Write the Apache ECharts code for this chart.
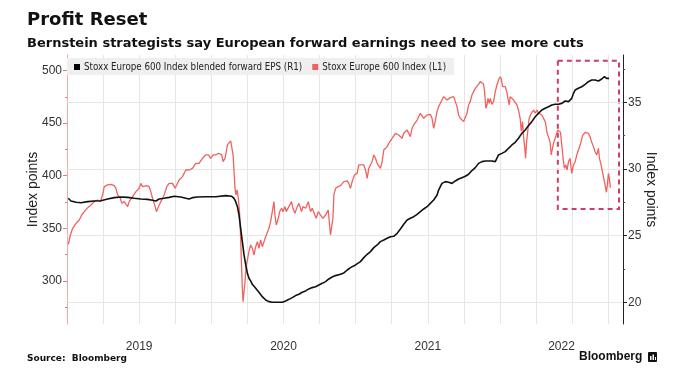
<!DOCTYPE html>
<html>
<head>
<meta charset="utf-8">
<script src="https://cdn.jsdelivr.net/npm/echarts/dist/echarts.min.js"></script>
<style>
html,body{margin:0;padding:0;background:#fff;}
#chart{width:677px;height:389px;}
</style>
</head>
<body>
<div id="chart"></div>
<script>
// x values: months since 1 Jan 2019
const yearLabels = ['2019', '2020', '2021', '2022'];
const yearLabelPos = [6, 18, 30, 41.12];
const leftTicks = [300, 350, 400, 450, 500];
const rightTicks = [20, 25, 30, 35];

const stoxx600 = [
[0.11,334.7],[0.28,343.6],[0.47,350.0],[0.75,354.7],[1.02,357.9],[1.22,362.6],[1.44,365.8],[1.72,369.6],[1.99,372.1],[2.27,375.3],[2.55,376.9],[2.77,375.3],[2.96,381.7],[3.10,389.6],[3.38,391.2],[3.65,391.8],[3.93,390.5],[4.07,388.0],[4.21,381.7],[4.43,378.5],[4.56,373.7],[4.76,375.3],[5.04,370.6],[5.17,375.3],[5.45,380.1],[5.73,384.8],[6.00,388.0],[6.14,392.7],[6.28,389.6],[6.42,388.0],[6.64,390.5],[6.83,389.6],[6.97,384.8],[7.11,378.5],[7.25,373.7],[7.44,365.8],[7.61,370.6],[7.80,375.3],[7.94,373.7],[8.08,381.7],[8.30,389.6],[8.49,392.7],[8.77,392.7],[8.99,388.0],[9.13,389.6],[9.32,395.9],[9.60,399.1],[9.88,405.4],[10.15,405.4],[10.43,407.0],[10.71,411.7],[10.98,411.7],[11.26,416.5],[11.40,418.1],[11.54,419.7],
[11.76,419.7],[11.95,416.5],[12.15,419.7],[12.37,419.7],[12.59,421.3],[12.70,422.8],[12.87,419.7],[12.98,413.3],[13.14,416.5],[13.34,429.2],[13.47,430.8],[13.61,433.0],[13.70,431.7],[13.81,419.7],[13.89,403.8],[13.97,388.0],[14.05,381.7],[14.14,386.4],[14.25,378.5],[14.36,362.6],[14.44,340.4],[14.52,311.9],[14.58,292.9],[14.64,280.2],[14.72,281.8],[14.80,299.3],[14.91,315.1],[15.00,319.9],[15.13,327.8],[15.27,334.1],[15.41,331.0],[15.55,324.6],[15.69,332.5],[15.83,337.3],[15.96,331.0],[16.10,338.9],[16.24,332.5],[16.38,337.3],[16.52,342.0],[16.66,340.4],[16.79,350.0],[16.93,356.3],[17.07,365.8],[17.21,375.3],[17.29,362.6],[17.40,353.1],[17.57,359.5],[17.68,365.8],[17.85,369.0],[17.96,365.8],[18.12,370.6],[18.23,365.8],[18.45,370.6],[18.67,375.3],[18.79,369.0],[18.95,364.2],[19.15,370.6],[19.28,373.7],[19.50,365.8],[19.62,370.6],[19.84,369.0],[20.06,375.3],[20.25,365.8],[20.39,369.0],[20.53,370.6],[20.72,359.5],[20.89,365.8],[21.08,362.6],[21.28,359.5],[21.50,362.6],[21.72,367.4],[21.91,343.6],[22.00,342.0],[22.11,359.5],[22.19,381.7],[22.33,388.0],[22.55,389.6],[22.74,390.5],
[23.02,394.3],[23.30,395.0],[23.43,392.7],[23.57,388.0],[23.71,394.3],[23.90,400.6],[24.12,402.2],[24.26,410.2],[24.40,411.7],[24.68,410.2],[24.82,405.4],[24.96,397.5],[25.09,407.0],[25.23,408.6],[25.37,413.3],[25.51,419.7],[25.65,416.5],[25.79,411.7],[25.92,410.2],[26.06,407.0],[26.20,413.3],[26.34,424.4],[26.48,424.4],[26.62,427.6],[26.75,430.8],[26.89,432.4],[27.03,435.5],[27.17,437.1],[27.31,440.3],[27.45,441.8],[27.58,438.7],[27.72,437.1],[27.86,435.5],[28.00,440.3],[28.14,438.7],[28.28,443.4],[28.41,440.3],[28.55,437.1],[28.69,445.0],[28.83,448.2],[28.97,449.8],[29.11,452.9],[29.24,454.5],[29.38,459.3],[29.52,457.7],[29.66,454.5],[29.80,456.1],[29.94,457.7],[30.07,456.1],[30.21,458.3],[30.35,454.5],[30.49,445.0],[30.63,452.9],[30.77,460.9],[30.90,465.6],[31.04,467.2],[31.18,471.9],[31.32,475.1],[31.46,473.5],[31.60,471.9],[31.73,473.5],[31.87,474.2],[32.01,473.5],[32.15,475.1],[32.29,470.4],[32.43,465.6],[32.56,457.7],[32.70,454.5],[32.84,456.1],[32.98,451.4],[33.12,452.9],[33.26,459.3],[33.39,467.2],[33.53,470.4],[33.67,476.7],[33.81,479.9],[33.95,483.0],
[34.09,483.0],[34.22,486.8],[34.36,489.4],[34.50,490.9],[34.64,486.8],[34.72,479.9],[34.83,464.0],[34.92,467.2],[35.00,473.5],[35.11,468.8],[35.19,473.5],[35.33,467.8],[35.47,470.4],[35.61,479.9],[35.75,486.2],[35.88,490.9],[36.02,494.1],[36.11,491.9],[36.22,484.6],[36.30,483.0],[36.44,484.6],[36.58,479.2],[36.66,473.5],[36.77,467.2],[36.85,475.1],[36.99,476.7],[37.13,471.9],[37.27,473.5],[37.41,467.2],[37.54,462.4],[37.68,454.5],[37.77,442.5],[37.88,451.4],[37.96,437.1],[38.04,429.2],[38.13,416.5],[38.21,431.7],[38.32,443.4],[38.43,454.5],[38.60,459.3],[38.79,462.4],[38.93,459.3],[39.07,462.4],[39.20,459.3],[39.34,460.9],[39.48,457.7],[39.62,459.3],[39.76,451.4],[39.84,446.6],[39.92,440.3],[40.03,437.1],[40.17,431.7],[40.26,419.7],[40.37,426.0],[40.45,430.8],[40.59,435.5],[40.73,437.1],[40.81,443.4],[40.92,441.8],[41.03,441.2],[41.14,429.2],[41.25,416.5],[41.36,407.0],[41.47,410.2],[41.58,405.4],[41.70,413.3],[41.83,416.5],[41.97,402.2],[42.11,410.2],[42.25,413.3],[42.39,419.7],[42.47,422.8],[42.58,426.0],[42.75,432.4],[42.86,438.0],[43.08,441.2],[43.24,442.5],[43.35,440.3],[43.49,437.1],[43.63,431.7],[43.77,427.6],[43.91,422.8],[44.05,419.7],[44.19,426.0],[44.27,416.5],[44.38,411.7],[44.52,403.8],[44.63,397.5],[44.74,391.2],[44.85,384.2],[44.93,391.2],[45.02,402.2],[45.10,396.9],[45.18,388.6]
];

const forwardEps = [
[0.11,27.80],[0.33,27.60],[0.75,27.50],[1.16,27.47],[1.72,27.55],[2.27,27.60],[2.82,27.62],[3.38,27.75],[3.93,27.85],[4.48,27.90],[5.04,27.87],[5.59,27.80],[6.14,27.75],[6.70,27.72],[7.11,27.65],[7.39,27.60],[7.66,27.75],[8.08,27.80],[8.49,27.87],[8.91,27.95],[9.46,27.90],[9.88,27.80],[10.15,27.75],[10.43,27.85],[10.85,27.90],[11.54,27.92],[12.37,27.92],[13.20,28.00],[13.70,27.95],[13.89,27.80],[14.03,27.55],[14.17,27.17],[14.30,26.55],[14.44,25.55],[14.58,24.55],[14.72,23.55],[14.86,22.80],[15.00,22.17],[15.13,21.80],[15.27,21.60],[15.41,21.35],[15.69,21.05],[15.96,20.75],[16.24,20.42],[16.52,20.17],[16.79,20.05],[17.07,20.00],[17.49,20.00],[17.90,20.00],[18.18,20.10],[18.45,20.22],[18.73,20.35],[19.01,20.50],[19.28,20.60],[19.56,20.75],[19.84,20.85],[20.11,21.00],[20.39,21.10],[20.67,21.17],[20.94,21.30],[21.22,21.42],[21.50,21.55],[21.77,21.75],[22.05,21.90],[22.33,22.00],[22.74,22.10],
[23.02,22.20],[23.30,22.42],[23.57,22.60],[23.99,22.80],[24.40,23.05],[24.68,23.35],[24.96,23.60],[25.23,23.80],[25.51,24.10],[25.79,24.30],[26.06,24.55],[26.34,24.67],[26.62,24.80],[26.89,24.92],[27.17,24.95],[27.45,25.17],[27.72,25.50],[28.00,25.85],[28.28,26.17],[28.55,26.30],[28.83,26.42],[29.11,26.60],[29.38,26.80],[29.66,27.00],[29.94,27.17],[30.21,27.42],[30.49,27.67],[30.77,28.05],[30.90,28.42],[31.04,28.67],[31.18,28.92],[31.46,29.05],[31.73,29.00],[32.01,28.92],[32.29,29.10],[32.56,29.25],[32.84,29.35],[33.12,29.45],[33.39,29.60],[33.67,29.88],[33.95,30.10],[34.22,30.42],[34.50,30.55],[34.78,30.60],[35.05,30.60],[35.33,30.60],[35.61,30.55],[35.75,30.67],[35.88,31.05],[36.16,31.17],[36.44,31.30],[36.71,31.55],[36.99,31.80],[37.27,32.00],[37.54,32.30],[37.82,32.67],[38.10,32.92],[38.37,33.25],[38.65,33.55],[38.93,33.92],[39.20,34.17],[39.48,34.42],[39.76,34.55],[40.03,34.67],[40.31,34.80],[40.59,34.85],[40.86,34.85],[41.14,34.92],[41.42,35.10],[41.70,35.05],[41.83,34.92],[41.97,35.30],[42.11,35.67],[42.25,35.92],[42.52,36.05],[42.80,36.17],[42.94,36.30],[43.08,36.35],[43.35,36.55],[43.63,36.67],[43.91,36.67],[44.19,36.60],[44.32,36.67],[44.46,36.75],[44.68,36.92],[44.79,36.85],[44.88,36.80],[45.02,36.67],[45.07,36.80]
];

// highlighted recent period box [x0, yTop(L), x1, yBottom(L)]
const boxX = [40.81, 45.90];
const boxY = [509.3, 368.3];

const chart = echarts.init(document.getElementById('chart'), null, {renderer: 'canvas'});
const axisFont = 'Liberation Sans, Arial, sans-serif';
const option = {
  animation: false,
  backgroundColor: '#ffffff',
  title: [
    {text: 'Profit Reset', left: 27, top: 11, padding: 0,
     textStyle: {fontFamily: 'DejaVu Sans, sans-serif', fontWeight: 'bold', fontSize: 18, color: '#111'}},
    {text: 'Bernstein strategists say European forward earnings need to see more cuts', left: 27, top: 37, padding: 0,
     textStyle: {fontFamily: 'DejaVu Sans, sans-serif', fontWeight: 'bold', fontSize: 13, color: '#111'}},
    {text: 'Source:  Bloomberg', left: 27, top: 354, padding: 0,
     textStyle: {fontFamily: 'DejaVu Sans, sans-serif', fontWeight: 'bold', fontSize: 9, color: '#111'}},
    {text: 'Bloomberg', left: 579, top: 351, padding: 0,
     textStyle: {fontFamily: 'Liberation Sans, Arial, sans-serif', fontWeight: 'bold', fontSize: 12, color: '#111'}}
  ],
  graphic: [
    {type: 'rect', left: 648, top: 352, shape: {width: 9, height: 10, r: 1}, style: {fill: '#111'}},
    {type: 'rect', left: 650, top: 356, shape: {width: 1.5, height: 4}, style: {fill: '#fff'}},
    {type: 'rect', left: 652.5, top: 354.5, shape: {width: 1.5, height: 5.5}, style: {fill: '#fff'}},
    {type: 'rect', left: 655, top: 357, shape: {width: 1, height: 3}, style: {fill: '#fff'}}
  ],
  legend: {
    left: 67, top: 58,
    padding: [4, 8, 3, 7],
    backgroundColor: '#efefef',
    itemWidth: 6, itemHeight: 6, itemGap: 10,
    icon: 'rect',
    data: ['Stoxx Europe 600 Index blended forward EPS (R1)', 'Stoxx Europe 600 Index (L1)'],
    textStyle: {fontFamily: 'DejaVu Sans Condensed, Liberation Sans, sans-serif', fontSize: 9.7, color: '#222', padding: [0, 0, 0, -1]}
  },
  grid: {left: 67, right: 54, top: 55, bottom: 65, containLabel: false},
  xAxis: {
    type: 'value', min: 0, max: 46.23, interval: 3,
    axisLine: {show: false}, axisTick: {show: false},
    splitLine: {show: true, lineStyle: {color: '#e6e6e6', width: 1}},
    axisLabel: {
      customValues: yearLabelPos,
      formatter: function (v) { const i = yearLabelPos.indexOf(v); return i >= 0 ? yearLabels[i] : ''; },
      color: '#333', fontSize: 12, fontFamily: axisFont, margin: 17
    }
  },
  yAxis: [
    {
      type: 'value', position: 'left', min: 259, max: 514.7,
      name: 'Index points', nameLocation: 'middle', nameGap: 27, nameMoveOverlap: false,
      nameTextStyle: {fontFamily: axisFont, fontSize: 14, color: '#222'},
      axisLine: {show: true, lineStyle: {color: '#f3a9a9', width: 1}},
      axisTick: {show: true, customValues: leftTicks, length: 4, lineStyle: {color: '#ec7a7a'}},
      minorTick: {show: true, splitNumber: 2, length: 2, lineStyle: {color: '#ec7a7a'}},
      axisLabel: {customValues: leftTicks, color: '#333', fontSize: 12, fontFamily: axisFont, margin: 5},
      splitLine: {show: false}
    },
    {
      type: 'value', position: 'right', min: 18.37, max: 38.55,
      name: 'Index points', nameLocation: 'middle', nameGap: 21, nameRotate: -90, nameMoveOverlap: false,
      nameTextStyle: {fontFamily: axisFont, fontSize: 14, color: '#222'},
      axisLine: {show: true, lineStyle: {color: '#222', width: 1}},
      axisTick: {show: true, customValues: rightTicks, length: 4, lineStyle: {color: '#222'}},
      minorTick: {show: true, splitNumber: 2, length: 2, lineStyle: {color: '#444'}},
      axisLabel: {customValues: rightTicks, color: '#333', fontSize: 12, fontFamily: axisFont, margin: 5},
      splitLine: {show: false}
    }
  ],
  series: [
    {
      name: 'Stoxx Europe 600 Index (L1)', type: 'line', yAxisIndex: 0,
      data: stoxx600, showSymbol: false, symbol: 'none',
      lineStyle: {color: '#f0625f', width: 1.3}, itemStyle: {color: '#f06262'},
      z: 3,
      markArea: {
        silent: true,
        itemStyle: {color: 'rgba(0,0,0,0)', borderColor: '#cc3d62', borderWidth: 2, borderType: [5, 4]},
        data: [[{xAxis: boxX[0], yAxis: boxY[0]}, {xAxis: boxX[1], yAxis: boxY[1]}]]
      }
    },
    {
      name: 'Stoxx Europe 600 Index blended forward EPS (R1)', type: 'line', yAxisIndex: 1,
      data: forwardEps, showSymbol: false, symbol: 'none',
      lineStyle: {color: '#111', width: 1.6}, itemStyle: {color: '#000'},
      z: 4,
      markLine: {
        silent: true, symbol: 'none', z: 1, animation: false,
        label: {show: false},
        lineStyle: {color: '#e6e6e6', width: 1, type: 'solid'},
        data: rightTicks.map(v => ({yAxis: v}))
      }
    }
  ]
};
chart.setOption(option);
</script>
</body>
</html>
